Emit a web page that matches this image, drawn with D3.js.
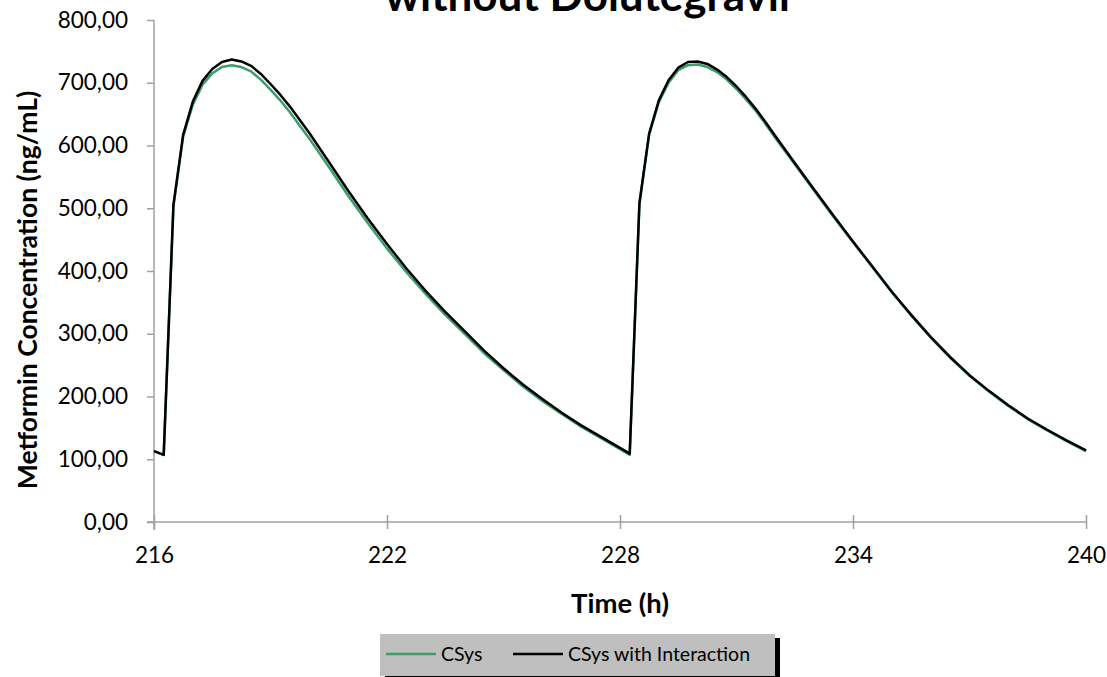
<!DOCTYPE html>
<html>
<head>
<meta charset="utf-8">
<script src="https://cdnjs.cloudflare.com/ajax/libs/d3/7.8.5/d3.min.js"></script>
<style>
body { margin: 0; background: #fff; }
text { font-family: Lato, "Open Sans", sans-serif; fill: #000; }
</style>
</head>
<body>
<div id="chart"></div>
<script>
//time points (h)
var TIMES = [216, 216.25, 216.5, 216.75, 217, 217.25, 217.5, 217.75, 218,
    218.25, 218.5, 218.75, 219, 219.25, 219.5, 219.75, 220,
    220.5, 221, 221.5, 222, 222.5, 223, 223.5, 224, 224.5, 225, 225.5, 226,
    226.5, 227, 227.5, 228, 228.25,
    228.5, 228.75, 229, 229.25, 229.5, 229.75, 230, 230.25, 230.5, 230.75,
    231, 231.25, 231.5, 231.75, 232,
    232.5, 233, 233.5, 234, 234.5, 235, 235.5, 236, 236.5, 237, 237.5, 238,
    238.5, 239, 239.5, 240];

//metformin concentration, ng/mL
var CSYS = [113, 107, 503, 614, 665, 697, 715, 725, 728,
    725, 718, 705, 689, 672, 653, 632, 611,
    566, 520, 477, 436, 398, 363, 330, 300, 269, 242, 216, 193,
    172, 152, 134, 116, 107,
    507, 617, 669, 700, 720, 728, 729, 725, 717, 705,
    690, 673, 655, 634, 612,
    570, 528, 486, 446, 406, 366, 329, 294, 262, 233, 208, 185,
    164, 146, 129, 113];

var CSYS_INT = [113, 107, 505, 617, 670, 703, 722, 733, 737,
    734, 727, 714, 698, 681, 662, 641, 620,
    574, 528, 484, 443, 404, 368, 335, 304, 273, 245, 219, 196,
    174, 154, 136, 118, 109,
    508, 619, 672, 704, 724, 733, 734, 730, 721, 709,
    694, 677, 658, 637, 615,
    572, 530, 488, 447, 407, 367, 330, 295, 263, 234, 209, 186,
    165, 147, 130, 114];

var X_TICKS = [216, 222, 228, 234, 240];
var Y_TICKS = [0, 100, 200, 300, 400, 500, 600, 700, 800];
var LABELS = ["CSys", "CSys with Interaction"];
var COLORS = ["#3a9d6b", "#000000"];

var W = 1107, H = 677;
var margin = { top: 20, right: 21, bottom: 155, left: 154 };
var width = W - margin.left - margin.right,
    height = H - margin.top - margin.bottom;

var svg = d3.select("#chart").append("svg")
    .attr("width", W)
    .attr("height", H);

var x = d3.scaleLinear().domain([216, 240]).range([margin.left, margin.left + width]);
var y = d3.scaleLinear().domain([0, 800]).range([margin.top + height, margin.top]);

var AXIS = "#a0a0a0";

//title, cut off at the top like the original
svg.append("text")
    .attr("x", 590)
    .attr("y", 11)
    .attr("text-anchor", "middle")
    .style("font-size", "44px")
    .style("font-weight", "bold")
    .text("without Dolutegravir");

//y axis
var yAxis = d3.axisLeft(y)
    .tickValues(Y_TICKS)
    .tickSize(7)
    .tickPadding(19)
    .tickFormat(function (d) {
        return d3.format(".2f")(d).replace(".", ",");
    });

var gy = svg.append("g")
    .attr("transform", "translate(" + margin.left + ",0)")
    .call(yAxis);
gy.select(".domain").remove();
gy.selectAll(".tick line").attr("stroke", AXIS).attr("stroke-width", 1.5);
gy.selectAll(".tick text").style("font-size", "22.5px").attr("fill", "#000");

//x axis, ticks cross the line
var xAxis = d3.axisBottom(x)
    .tickValues(X_TICKS)
    .tickSize(7)
    .tickPadding(18)
    .tickFormat(d3.format("d"));

var gx = svg.append("g")
    .attr("transform", "translate(0," + y(0) + ")")
    .call(xAxis);
gx.select(".domain").remove();
gx.selectAll(".tick line").attr("y1", -7).attr("stroke", AXIS).attr("stroke-width", 1.5);
gx.selectAll(".tick text").style("font-size", "22.5px").attr("fill", "#000");

svg.append("line")
    .attr("x1", margin.left).attr("x2", margin.left)
    .attr("y1", y(800)).attr("y2", y(0) + 8)
    .attr("stroke", AXIS).attr("stroke-width", 1.5);
svg.append("line")
    .attr("x1", margin.left - 7).attr("x2", x(240))
    .attr("y1", y(0)).attr("y2", y(0))
    .attr("stroke", AXIS).attr("stroke-width", 1.5);

//axis titles
svg.append("text")
    .attr("x", 620)
    .attr("y", 613)
    .attr("text-anchor", "middle")
    .style("font-size", "27.5px")
    .style("font-weight", "bold")
    .text("Time (h)");

svg.append("text")
    .attr("transform", "translate(37,290) rotate(-90)")
    .attr("text-anchor", "middle")
    .style("font-size", "26.5px")
    .style("font-weight", "bold")
    .text("Metformin Concentration (ng/mL)");

//lines
var line = d3.line()
    .x(function (d, i) { return x(TIMES[i]); })
    .y(function (d) { return y(d); });

svg.append("path")
    .datum(CSYS)
    .attr("fill", "none")
    .attr("stroke", COLORS[0])
    .attr("stroke-width", 2.5)
    .attr("stroke-linejoin", "round")
    .attr("d", line);

svg.append("path")
    .datum(CSYS_INT)
    .attr("fill", "none")
    .attr("stroke", COLORS[1])
    .attr("stroke-width", 2.5)
    .attr("stroke-linejoin", "round")
    .attr("d", line);

//legend box with shadow
var lg = svg.append("g").attr("transform", "translate(380,634)");
lg.append("rect")
    .attr("x", 5).attr("y", 4)
    .attr("width", 395).attr("height", 45)
    .attr("fill", "#000");
lg.append("rect")
    .attr("width", 395).attr("height", 42)
    .attr("fill", "#bfbfbf");

var lp = [6, 133];
var legend = lg.selectAll("g.legend")
    .data(LABELS)
    .enter().append("g")
    .attr("class", "legend");

legend.append("line")
    .attr("x1", function (d, i) { return lp[i]; })
    .attr("x2", function (d, i) { return lp[i] + 50; })
    .attr("y1", 20).attr("y2", 20)
    .attr("stroke", function (d, i) { return COLORS[i]; })
    .attr("stroke-width", 2.5);

legend.append("text")
    .attr("x", function (d, i) { return lp[i] + 55; })
    .attr("y", 27)
    .style("font-size", "19.5px")
    .text(function (d) { return d; });
</script>
</body>
</html>
